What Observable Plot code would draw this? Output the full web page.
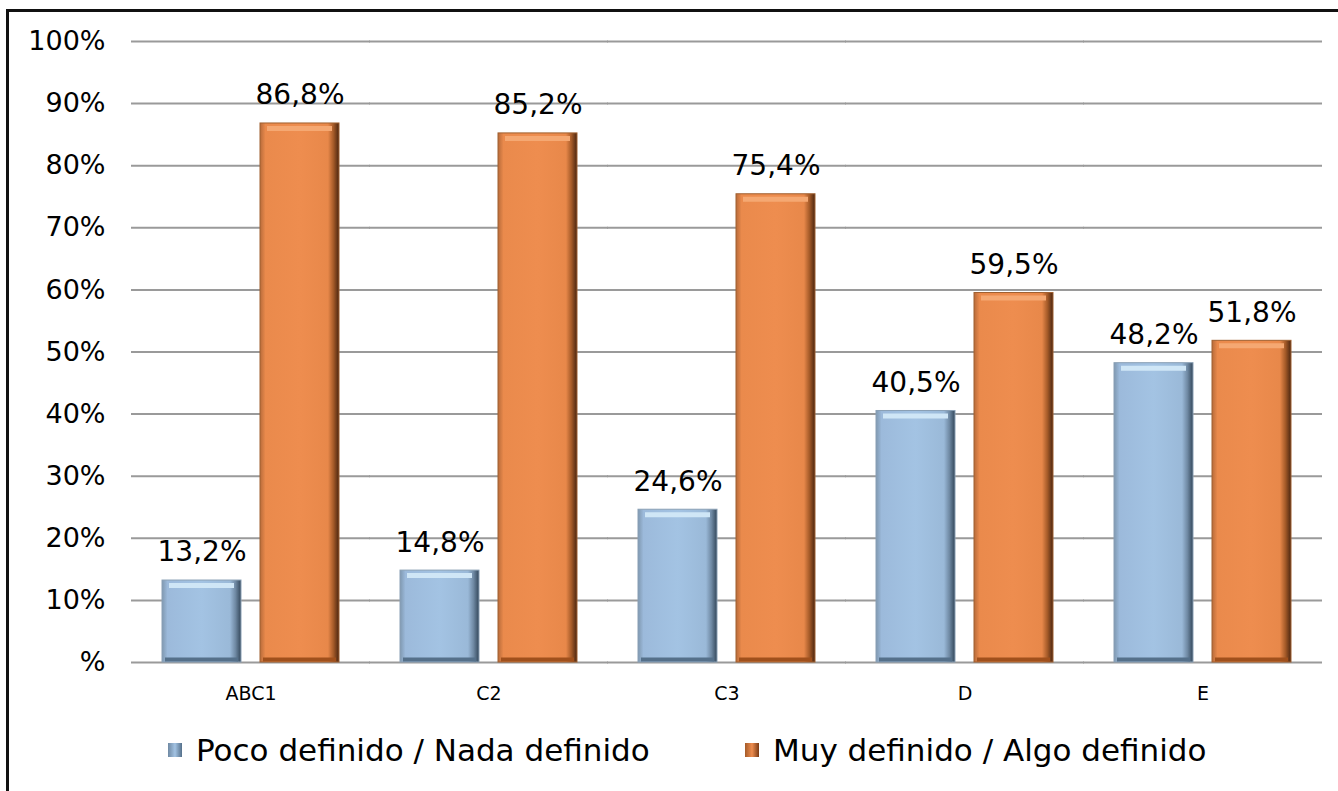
<!DOCTYPE html>
<html>
<head>
<meta charset="utf-8">
<script src="https://cdn.jsdelivr.net/npm/d3@7"></script>
<script src="https://cdn.jsdelivr.net/npm/@observablehq/plot@0.6"></script>
<style>
  html, body { margin: 0; padding: 0; background: #fff; overflow: hidden; }
  #wrap { position: relative; width: 1338px; height: 791px; overflow: hidden; }
  #frame { position: absolute; left: 6px; top: 9px; width: 1400px; height: 900px;
           border-left: 3px solid #111; border-top: 3px solid #111; box-sizing: border-box; }
  #chart { position: absolute; left: 0; top: 0; }
  #legend { position: absolute; left: 0; top: 732px; width: 1338px; height: 50px;
            font-family: "DejaVu Sans", sans-serif; font-size: 31px; color: #000; }
  .item { position: absolute; top: 0; display: flex; align-items: center; white-space: nowrap; }
  .sw { width: 14px; height: 14px; margin-right: 14px; }
</style>
</head>
<body>
<div id="wrap">
  <div id="frame"></div>
  <div id="chart"></div>
  <div id="legend"></div>
</div>
<script>
const categories = ["ABC1", "C2", "C3", "D", "E"];
const series = ["Poco definido / Nada definido", "Muy definido / Algo definido"];
const pocoValues = [13.2, 14.8, 24.6, 40.5, 48.2];
const muyValues = [86.8, 85.2, 75.4, 59.5, 51.8];
const yTicks = [0, 10, 20, 30, 40, 50, 60, 70, 80, 90, 100];
const yTickLabels = ["%", "10%", "20%", "30%", "40%", "50%", "60%", "70%", "80%", "90%", "100%"];

const data = [];
categories.forEach((c, i) => {
  data.push({cat: c, s: series[0], v: pocoValues[i]});
  data.push({cat: c, s: series[1], v: muyValues[i]});
});
const fmt = v => v.toFixed(1).replace(".", ",") + "%";
const font = "DejaVu Sans, sans-serif";
const blue = data.filter(d => d.s === series[0]);
const orange = data.filter(d => d.s === series[1]);

const plot = Plot.plot({
  width: 1338,
  height: 720,
  marginLeft: 130,
  marginRight: 16,
  marginTop: 41,
  marginBottom: 58,
  style: {fontFamily: font, background: "transparent", color: "#000"},
  fx: {domain: categories, paddingInner: 0.2575, paddingOuter: 0.12875, label: null},
  x: {domain: series, paddingInner: 0.194, paddingOuter: 0, axis: null},
  y: {domain: [0, 100], axis: null},
  marks: [
    // gridlines: each facet's rule extends into the half-gaps so the lines read as continuous
    Plot.ruleY(yTicks, {stroke: "#9a9a9a", strokeWidth: 2, insetLeft: -31, insetRight: -31}),
    Plot.axisY(yTicks, {anchor: "left", tickSize: 0, tickPadding: 57, fontSize: 27,
      tickFormat: d => yTickLabels[yTicks.indexOf(d)], label: null}),
    Plot.axisFx({anchor: "bottom", tickSize: 0, tickPadding: 24, fontSize: 19, label: null}),
    Plot.barY(blue, {fx: "cat", x: "s", y: "v", fill: "url(#gBlue)", stroke: "#8aa0b5", strokeWidth: 1}),
    Plot.barY(orange, {fx: "cat", x: "s", y: "v", fill: "url(#gOrange)", stroke: "#a06030", strokeWidth: 1}),
    Plot.tickY(blue, {fx: "cat", x: "s", y: "v", dy: 5, stroke: "#cfe6f6", strokeWidth: 5, insetLeft: 7, insetRight: 7}),
    Plot.tickY(orange, {fx: "cat", x: "s", y: "v", dy: 5, stroke: "#f5a872", strokeWidth: 5, insetLeft: 7, insetRight: 7}),
    Plot.tickY(blue, {fx: "cat", x: "s", y: 0, dy: -3, stroke: "#55708a", strokeWidth: 4, insetLeft: 3, insetRight: 3}),
    Plot.tickY(orange, {fx: "cat", x: "s", y: 0, dy: -3, stroke: "#a0501c", strokeWidth: 4, insetLeft: 3, insetRight: 3}),
    Plot.text(data, {fx: "cat", x: "s", y: "v", text: d => fmt(d.v), dy: -28, fontSize: 28, fill: "#000"})
  ]
});

// gradient definitions for bevelled bars
const ns = "http://www.w3.org/2000/svg";
const defs = document.createElementNS(ns, "defs");
function grad(id, stops) {
  const g = document.createElementNS(ns, "linearGradient");
  g.setAttribute("id", id);
  g.setAttribute("x1", "0"); g.setAttribute("x2", "1");
  g.setAttribute("y1", "0"); g.setAttribute("y2", "0");
  stops.forEach(([o, c]) => {
    const s = document.createElementNS(ns, "stop");
    s.setAttribute("offset", o);
    s.setAttribute("stop-color", c);
    g.appendChild(s);
  });
  defs.appendChild(g);
}
grad("gBlue", [[0, "#7f98b0"], [0.07, "#9cbadb"], [0.5, "#a3c3e3"], [0.86, "#9ab9d8"], [0.93, "#6f89a3"], [1, "#33475a"]]);
grad("gOrange", [[0, "#b86b3a"], [0.07, "#ea8a4c"], [0.5, "#ee8d4f"], [0.86, "#e8884a"], [0.93, "#a45a28"], [1, "#4a2510"]]);
plot.insertBefore(defs, plot.firstChild);
document.getElementById("chart").appendChild(plot);

// legend
const legend = document.getElementById("legend");
const legendPos = [168, 745];
const swFill = ["linear-gradient(90deg,#6f89a3,#a3c3e3 50%,#55708a)", "linear-gradient(90deg,#a45a28,#ee8d4f 50%,#7a3a14)"];
series.forEach((s, i) => {
  const it = document.createElement("div");
  it.className = "item";
  it.style.left = legendPos[i] + "px";
  const sw = document.createElement("div");
  sw.className = "sw";
  sw.style.background = swFill[i];
  const t = document.createElement("span");
  t.textContent = s;
  it.appendChild(sw); it.appendChild(t);
  legend.appendChild(it);
});
</script>
</body>
</html>
